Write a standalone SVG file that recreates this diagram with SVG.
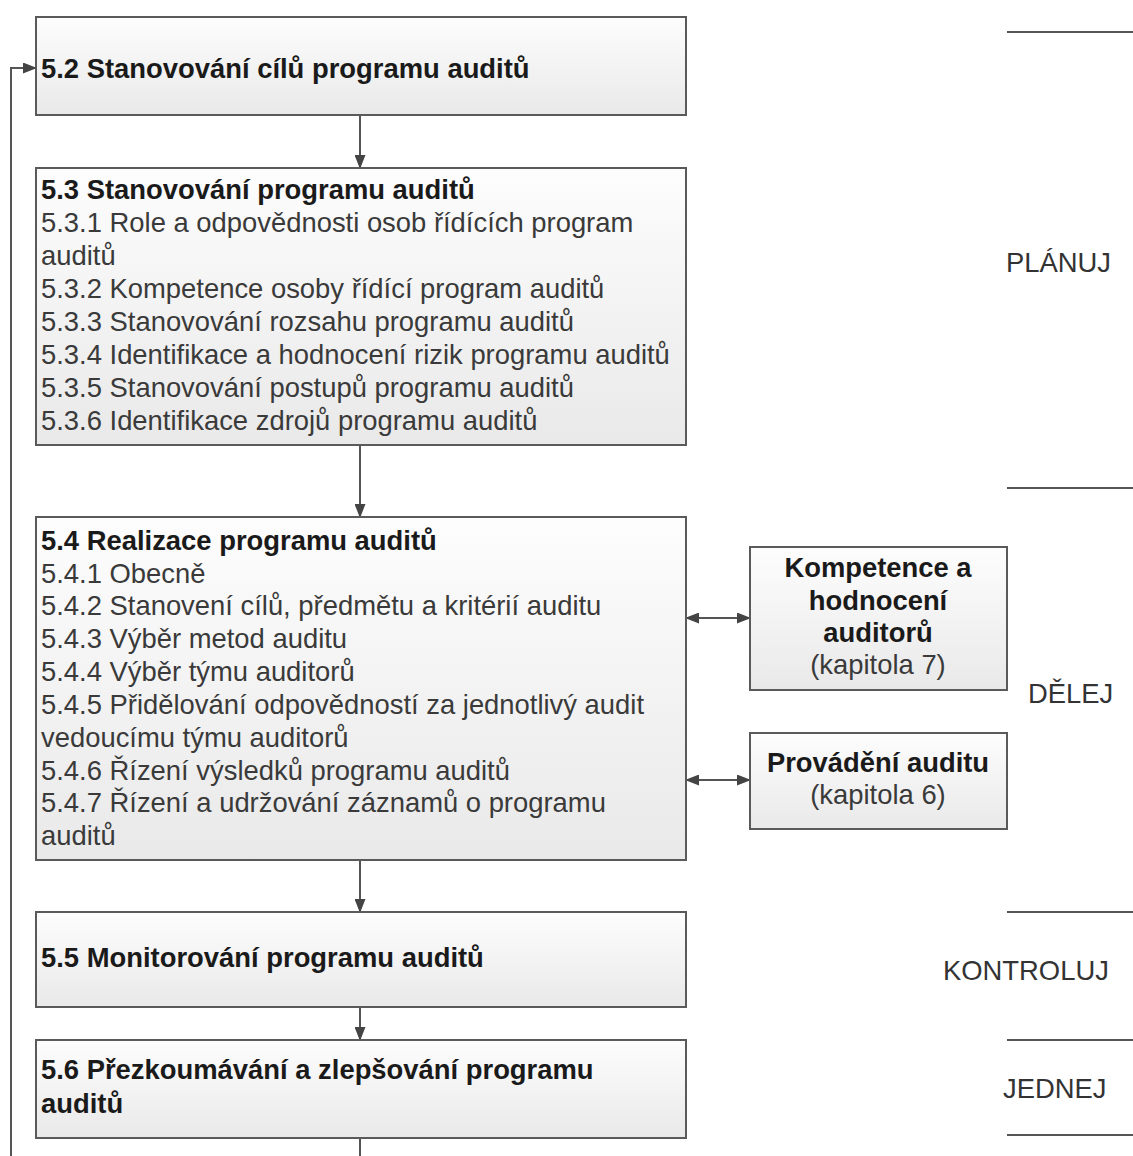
<svg xmlns="http://www.w3.org/2000/svg" width="1133" height="1156" viewBox="0 0 1133 1156">
<defs>
<linearGradient id="g" x1="0" y1="0" x2="0" y2="1">
<stop offset="0" stop-color="#fdfdfd"/>
<stop offset="1" stop-color="#e9e9e9"/>
</linearGradient>
<marker id="ah" viewBox="0 0 14 11" refX="13" refY="5.5" markerWidth="14" markerHeight="11" markerUnits="userSpaceOnUse" orient="auto-start-reverse">
<path d="M0,0 L14,5.5 L0,11 z" fill="#444"/>
</marker>
<style>
.box{fill:url(#g);stroke:#5a5a5a;stroke-width:2}
.t{font-family:"Liberation Sans",Arial,sans-serif;font-size:27.4px;fill:#3a3a3a}
.b{font-family:"Liberation Sans",Arial,sans-serif;font-size:27.4px;font-weight:bold;fill:#1a1a1a}
.c{text-anchor:middle}
.lab{font-family:"Liberation Sans",Arial,sans-serif;font-size:27.4px;fill:#333}
.ln{stroke:#555;stroke-width:2;fill:none}
.cn{stroke:#555;stroke-width:2;fill:none}
</style>
</defs>
<rect width="1133" height="1156" fill="#fff"/>

<g id="connectors">
<line class="cn" x1="360" y1="115" x2="360" y2="168" marker-end="url(#ah)"/>
<line class="cn" x1="360" y1="445" x2="360" y2="517" marker-end="url(#ah)"/>
<line class="cn" x1="360" y1="860" x2="360" y2="912" marker-end="url(#ah)"/>
<line class="cn" x1="360" y1="1007" x2="360" y2="1040" marker-end="url(#ah)"/>
<line class="cn" x1="360" y1="1138" x2="360" y2="1156"/>
<polyline class="cn" points="11,1156 11,68 36,68" marker-end="url(#ah)"/>
<line class="cn" x1="686" y1="618" x2="750" y2="618" marker-start="url(#ah)" marker-end="url(#ah)"/>
<line class="cn" x1="686" y1="780" x2="750" y2="780" marker-start="url(#ah)" marker-end="url(#ah)"/>
</g>

<g id="n52">
<rect class="box" x="36" y="17" width="650" height="98"/>
<text class="b" x="41" y="78">5.2 Stanovování cílů programu auditů</text>
</g>

<g id="n53">
<rect class="box" x="36" y="168" width="650" height="277"/>
<text class="b" x="41" y="199">5.3 Stanovování programu auditů</text>
<text class="t" x="41" y="232">5.3.1 Role a odpovědnosti osob řídících program</text>
<text class="t" x="41" y="265">auditů</text>
<text class="t" x="41" y="298">5.3.2 Kompetence osoby řídící program auditů</text>
<text class="t" x="41" y="331">5.3.3 Stanovování rozsahu programu auditů</text>
<text class="t" x="41" y="364">5.3.4 Identifikace a hodnocení rizik programu auditů</text>
<text class="t" x="41" y="397">5.3.5 Stanovování postupů programu auditů</text>
<text class="t" x="41" y="430">5.3.6 Identifikace zdrojů programu auditů</text>
</g>

<g id="n54">
<rect class="box" x="36" y="517" width="650" height="343"/>
<text class="b" x="41" y="550">5.4 Realizace programu auditů</text>
<text class="t" x="41" y="583">5.4.1 Obecně</text>
<text class="t" x="41" y="615">5.4.2 Stanovení cílů, předmětu a kritérií auditu</text>
<text class="t" x="41" y="648">5.4.3 Výběr metod auditu</text>
<text class="t" x="41" y="681">5.4.4 Výběr týmu auditorů</text>
<text class="t" x="41" y="714">5.4.5 Přidělování odpovědností za jednotlivý audit</text>
<text class="t" x="41" y="747">vedoucímu týmu auditorů</text>
<text class="t" x="41" y="780">5.4.6 Řízení výsledků programu auditů</text>
<text class="t" x="41" y="812">5.4.7 Řízení a udržování záznamů o programu</text>
<text class="t" x="41" y="845">auditů</text>
</g>

<g id="n55">
<rect class="box" x="36" y="912" width="650" height="95"/>
<text class="b" x="41" y="967">5.5 Monitorování programu auditů</text>
</g>

<g id="n56">
<rect class="box" x="36" y="1040" width="650" height="98"/>
<text class="b" x="41" y="1079">5.6 Přezkoumávání a zlepšování programu</text>
<text class="b" x="41" y="1113">auditů</text>
</g>

<g id="n7">
<rect class="box" x="750" y="547" width="257" height="143"/>
<text class="b c" x="878" y="577">Kompetence a</text>
<text class="b c" x="878" y="610">hodnocení</text>
<text class="b c" x="878" y="642">auditorů</text>
<text class="t c" x="878" y="674">(kapitola 7)</text>
</g>

<g id="n6">
<rect class="box" x="750" y="733" width="257" height="96"/>
<text class="b c" x="878" y="772">Provádění auditu</text>
<text class="t c" x="878" y="804">(kapitola 6)</text>
</g>

<g id="phases">
<line class="ln" x1="1007" y1="32" x2="1133" y2="32"/>
<line class="ln" x1="1007" y1="488" x2="1133" y2="488"/>
<line class="ln" x1="1007" y1="912" x2="1133" y2="912"/>
<line class="ln" x1="1007" y1="1040" x2="1133" y2="1040"/>
<line class="ln" x1="1007" y1="1135" x2="1133" y2="1135"/>
<text class="lab" x="1006" y="272">PLÁNUJ</text>
<text class="lab" x="1028" y="703">DĚLEJ</text>
<text class="lab" x="943" y="980">KONTROLUJ</text>
<text class="lab" x="1003" y="1098">JEDNEJ</text>
</g>
</svg>
